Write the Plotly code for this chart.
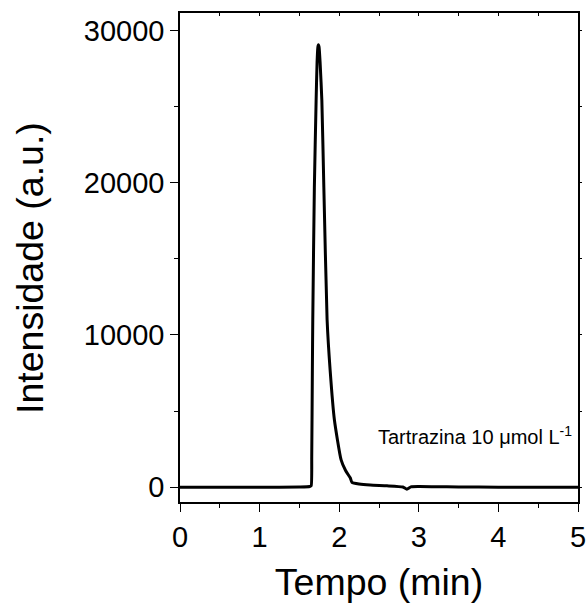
import plotly.graph_objects as go

# Chromatogram data
tempo = [0.0, 0.5, 1.0, 1.5, 1.63, 1.648, 1.655, 1.663, 1.668, 1.688, 1.71, 1.722, 1.732, 1.739,
         1.747, 1.76, 1.782, 1.807, 1.848, 1.886, 1.94, 2.024, 2.08, 2.14, 2.16, 2.25, 2.39,
         2.6, 2.8, 2.85, 2.9, 3.0, 3.2, 3.5, 4.0, 4.5, 5.0]
intensidade = [0, 0, 0, 20, 50, 100, 2000, 7700, 11000, 19700, 25400, 27900, 28900, 29050,
               28900, 27900, 25400, 19700, 11000, 7700, 4420, 1800, 1100, 610, 330, 220, 150,
               100, 20, -120, 30, 50, 40, 20, 10, 0, 0]

x_ticks = [0, 1, 2, 3, 4, 5]
y_ticks = [0, 10000, 20000, 30000]
x_range = [0, 5]
y_range = [-965, 31140]
x_title = "Tempo (min)"
y_title = "Intensidade (a.u.)"
label_text = "Tartrazina 10 \u03bcmol L<sup>-1</sup>"
label_pos = (2.46, 3400)

FONT = "Liberation Sans, Arial, sans-serif"

fig = go.Figure()
fig.add_trace(go.Scatter(x=tempo, y=intensidade, mode="lines",
                         line=dict(color="black", width=3, shape="spline", smoothing=0.5),
                         showlegend=False, hoverinfo="skip"))
# invisible trace to activate mirrored top/right axes
fig.add_trace(go.Scatter(x=[None], y=[None], xaxis="x2", yaxis="y2",
                         showlegend=False, hoverinfo="skip"))

fig.update_layout(
    width=587, height=603,
    margin=dict(l=180, r=9, t=13, b=101, autoexpand=False),
    plot_bgcolor="white", paper_bgcolor="white",
    font=dict(family=FONT, color="black"),
    xaxis=dict(range=x_range, tickvals=x_ticks, ticks="outside", ticklen=8, tickwidth=1.3,
               tickcolor="black", showline=True, linecolor="black", linewidth=1.5,
               showgrid=False, zeroline=False, tickfont=dict(size=29), automargin=False,
               minor=dict(dtick=0.5, ticks="outside", ticklen=4, tickcolor="black", showgrid=False),
               title=dict(text=x_title, font=dict(size=37.5), standoff=21)),
    yaxis=dict(range=y_range, tickvals=y_ticks, tickformat="d", ticks="outside", ticklen=8,
               tickwidth=1.3, tickcolor="black", showline=True, linecolor="black", linewidth=1.5,
               showgrid=False, zeroline=False, tickfont=dict(size=29), automargin=False,
               minor=dict(dtick=5000, ticks="outside", ticklen=4, tickcolor="black", showgrid=False)),
    xaxis2=dict(range=x_range, overlaying="x", side="top", anchor="y", dtick=0.5,
                ticks="inside", ticklen=3, tickcolor="black", showticklabels=False, automargin=False,
                showline=True, linecolor="black", linewidth=1.5, showgrid=False, zeroline=False),
    yaxis2=dict(range=y_range, overlaying="y", side="right", anchor="x", dtick=5000,
                ticks="outside", ticklen=2, tickcolor="black", showticklabels=False, automargin=False,
                showline=True, linecolor="black", linewidth=1.5, showgrid=False, zeroline=False),
)

# y-axis title placed as rotated annotation (slightly below plot centre, as in reference)
fig.add_annotation(xref="paper", yref="paper", x=(30 - 180) / 398, y=(502 - 268) / 489,
                   text=y_title, textangle=-90, showarrow=False,
                   xanchor="center", yanchor="middle", font=dict(size=37.5, family=FONT))

fig.add_annotation(x=label_pos[0], y=label_pos[1], text=label_text, showarrow=False,
                   xanchor="left", yanchor="middle", font=dict(size=20, family=FONT))

fig.write_html("out.html")
